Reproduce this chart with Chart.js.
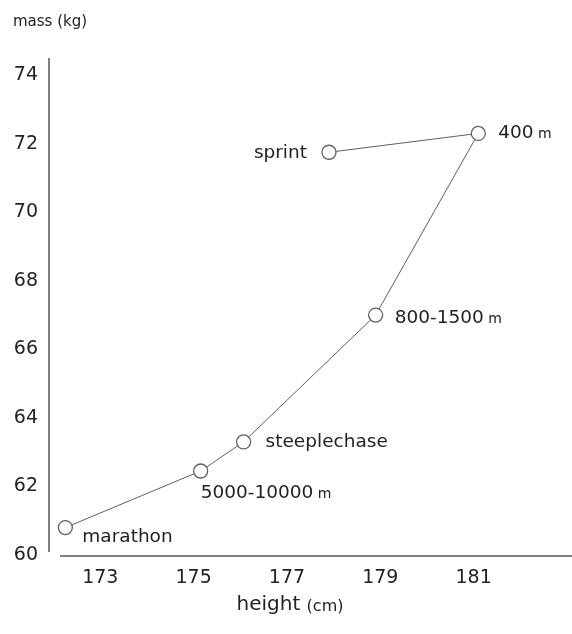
<!DOCTYPE html>
<html>
<head>
<meta charset="utf-8">
<script src="https://cdn.jsdelivr.net/npm/chart.js@4"></script>
<style>
  html, body { margin: 0; padding: 0; background: #fff; }
  #wrap { width: 572px; height: 634px; }
</style>
</head>
<body>
<div id="wrap"><canvas id="c"></canvas></div>
<script>
var events = ['marathon', '5000-10000 m', 'steeplechase', '800-1500 m', '400 m', 'sprint'];
var heights = [172.25, 175.15, 176.07, 178.9, 181.1, 177.9];
var masses = [60.8, 62.45, 63.3, 67.0, 72.3, 71.75];
var xTicks = [173, 175, 177, 179, 181];
var yTicks = [60, 62, 64, 66, 68, 70, 72, 74];

var FONT = '"DejaVu Sans", "Liberation Sans", sans-serif';
var TXT = '#222';
var LINE = '#606060';

// where each event label sits relative to its point: [dx, dy, align]
var labelPlace = [
  [17, 10, 'left'],
  [0, 22, 'left'],
  [22, 0, 'left'],
  [19, 3, 'left'],
  [20, 0, 'left'],
  [-22, 1, 'right']
];

function drawLabel(ctx, text, x, y, align) {
  var main = text, unit = '';
  if (/ m$/.test(text)) { main = text.slice(0, -2); unit = ' m'; }
  ctx.font = '18.5px ' + FONT;
  var w1 = ctx.measureText(main).width;
  ctx.font = '14px ' + FONT;
  var w2 = ctx.measureText(unit).width;
  var x0 = align === 'right' ? x - w1 - w2 : x;
  ctx.textAlign = 'left';
  ctx.textBaseline = 'middle';
  ctx.font = '18.5px ' + FONT;
  ctx.fillText(main, x0, y);
  if (unit) {
    ctx.font = '14px ' + FONT;
    ctx.fillText(unit, x0 + w1, y + 1);
  }
}

var decor = {
  id: 'decor',
  beforeDatasetsDraw: function (chart) {
    var ctx = chart.ctx, a = chart.chartArea;
    ctx.save();
    ctx.strokeStyle = '#555';
    ctx.lineWidth = 1.5;
    ctx.beginPath();
    ctx.moveTo(a.left, a.top);
    ctx.lineTo(a.left, a.bottom - 3);
    ctx.moveTo(a.left + 11, a.bottom + 1);
    ctx.lineTo(chart.width, a.bottom + 1);
    ctx.stroke();
    ctx.restore();
  },
  afterDatasetsDraw: function (chart) {
    var ctx = chart.ctx;
    var xs = chart.scales.x, ys = chart.scales.y;
    ctx.save();
    ctx.fillStyle = TXT;
    events.forEach(function (ev, i) {
      var p = labelPlace[i];
      drawLabel(ctx, ev, xs.getPixelForValue(heights[i]) + p[0], ys.getPixelForValue(masses[i]) + p[1], p[2]);
    });
    // axis titles
    ctx.textBaseline = 'middle';
    ctx.textAlign = 'left';
    ctx.font = '15px ' + FONT;
    ctx.fillText('mass (kg)', 13, 22);
    ctx.font = '20px ' + FONT;
    var hw = ctx.measureText('height ').width;
    ctx.font = '16px ' + FONT;
    var cw = ctx.measureText('(cm)').width;
    var hx = 290 - (hw + cw) / 2;
    ctx.font = '20px ' + FONT;
    ctx.fillText('height ', hx, 605);
    ctx.font = '16px ' + FONT;
    ctx.fillText('(cm)', hx + hw, 607);
    ctx.restore();
  }
};

new Chart(document.getElementById('c'), {
  type: 'scatter',
  data: {
    datasets: [{
      data: heights.map(function (h, i) { return { x: h, y: masses[i] }; }),
      showLine: true,
      borderColor: LINE,
      borderWidth: 1,
      pointRadius: 7,
      pointHoverRadius: 7,
      pointBackgroundColor: '#fff',
      pointBorderColor: LINE,
      pointBorderWidth: 1.3
    }]
  },
  options: {
    responsive: true,
    maintainAspectRatio: false,
    animation: false,
    layout: { padding: { top: 58, right: 0, left: 0, bottom: 0 } },
    plugins: { legend: { display: false }, tooltip: { enabled: false } },
    scales: {
      x: {
        type: 'linear',
        min: 171.9,
        max: 182.93,
        afterBuildTicks: function (s) { s.ticks = xTicks.map(function (v) { return { value: v }; }); },
        afterFit: function (s) { s.height = 79; },
        grid: { display: false, drawTicks: false },
        border: { display: false },
        ticks: { padding: 12, color: TXT, font: { family: FONT, size: 19 }, maxRotation: 0 }
      },
      y: {
        type: 'linear',
        min: 60,
        max: 74.5,
        afterBuildTicks: function (s) { s.ticks = yTicks.map(function (v) { return { value: v }; }); },
        afterFit: function (s) { s.width = 49; },
        grid: { display: false, drawTicks: false },
        border: { display: false },
        ticks: { padding: 11, color: TXT, font: { family: FONT, size: 19 } }
      }
    }
  },
  plugins: [decor]
});
</script>
</body>
</html>
